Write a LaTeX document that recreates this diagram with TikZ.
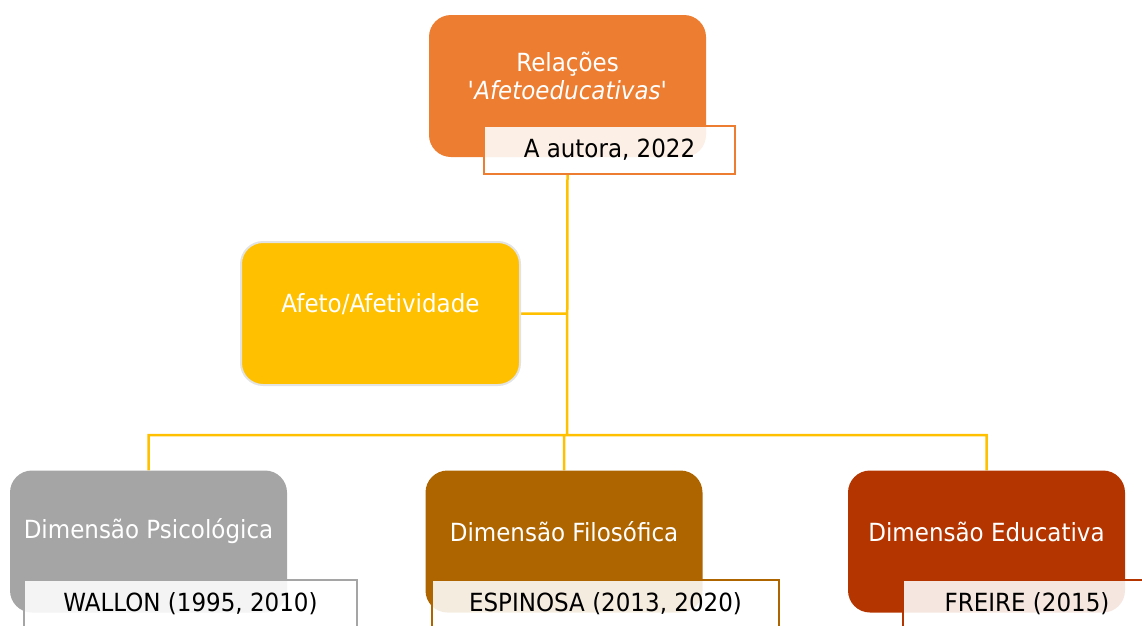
\documentclass[tikz,border=0pt]{standalone}
\usepackage{fontspec}
\setmainfont{DejaVu Sans}[FakeStretch=0.92]
\usepackage{xcolor}
\usetikzlibrary{backgrounds}

\definecolor{laranja}{HTML}{ED7D31}
\definecolor{ouro}{HTML}{FFC000}
\definecolor{cinza}{HTML}{A5A5A5}
\definecolor{marrom}{HTML}{AE6500}
\definecolor{telha}{HTML}{B43500}

\begin{document}
\begin{tikzpicture}[x=1pt,y=-1pt,font=\fontsize{25}{28}\selectfont,
    box/.style={rectangle,rounded corners=22pt,inner sep=0pt,minimum width=277pt,minimum height=142pt},
    capbox/.style={rectangle,draw,line width=2pt,fill=white,fill opacity=0.88,text opacity=1,text=black,inner sep=0pt,minimum height=48pt},
    inlbl/.style={white,align=center,yshift=10pt},
    link/.style={draw=ouro,line width=2.5pt}]
    \useasboundingbox (0,0) rectangle (1142,625);
    \clip (0,0) rectangle (1142,625);

    % topo
    \node[box, fill=laranja, label={[inlbl]center:{Relações\\\textit{\textquotesingle Afetoeducativas\textquotesingle}}}] (rel) at (567.5,86) {};
    \node[capbox, draw=laranja, minimum width=251pt] (autora) at (609.5,150) {A autora, 2022};

    \node[box, fill=ouro, draw=gray!22, line width=2pt, minimum width=279pt, minimum height=143pt,
          label={[inlbl,yshift=-0.5pt]center:Afeto/Afetividade}] (afeto) at (380.5,313.5) {};

    % dimensoes
    \node[box, fill=cinza, label={[inlbl]center:Dimensão Psicológica}] (psi) at (148.5,541.5) {};
    \node[box, fill=marrom, label={[inlbl]center:Dimensão Filosófica}] (fil) at (564,541.5) {};
    \node[box, fill=telha, label={[inlbl]center:Dimensão Educativa}] (edu) at (986.5,541.5) {};

    \node[capbox, draw=cinza, minimum width=333pt] (wallon) at (190.5,604) {WALLON (1995, 2010)};
    \node[capbox, draw=marrom, minimum width=347pt] (espinosa) at (605.5,604) {ESPINOSA (2013, 2020)};
    \node[capbox, draw=telha, minimum width=248pt] (freire) at (1027,604) {FREIRE (2015)};

    \coordinate (hub) at (567,435);
    \begin{scope}[on background layer]
    \path[link] (rel |- autora.south) -- (hub)
        (afeto.east) -- (rel |- afeto.east)
        (hub) -| (psi.north)
        (hub) -| (fil.north)
        (hub) -| (edu.north);
    \end{scope}
\end{tikzpicture}
\end{document}
